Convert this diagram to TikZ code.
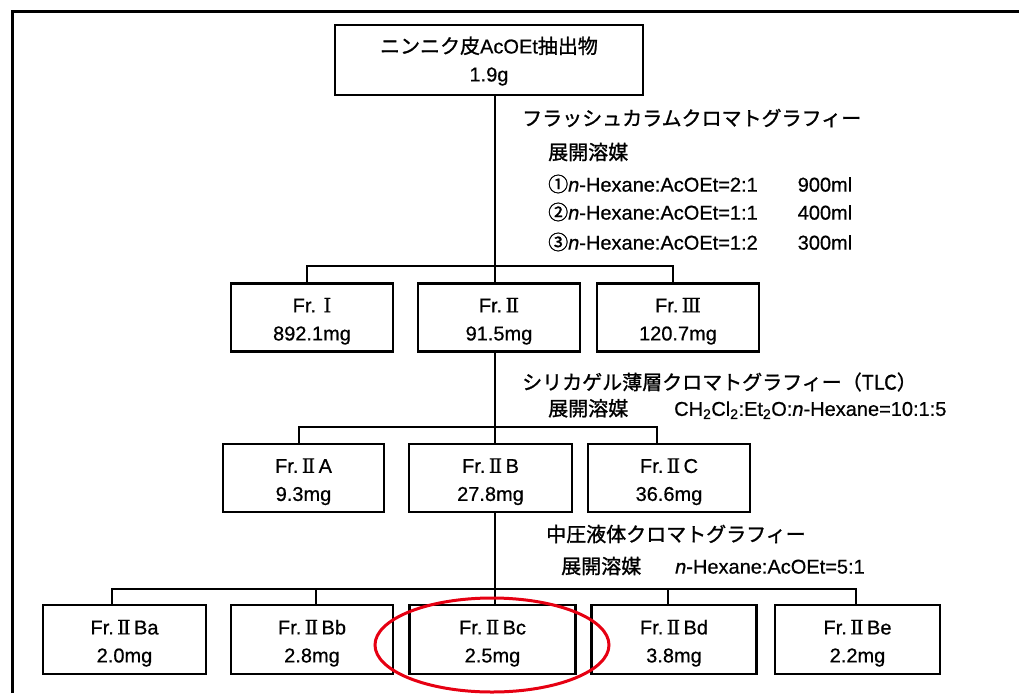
\documentclass[tikz,border=0pt]{standalone}
\usepackage{fontspec}
\setmainfont{Liberation Sans}[FakeBold=0.6]
\newfontfamily\jp{Noto Sans CJK JP}[FakeBold=1.2]
\newfontfamily\rn{DejaVu Serif}[FakeBold=0.6]
\newcommand{\tstrut}{\rule{0pt}{22pt}}
\usetikzlibrary{shapes.geometric}
\begin{document}
\begin{tikzpicture}[x=1pt,y=-1pt,
  fbox/.style={draw, line width=2.6pt, inner sep=0pt, align=center, minimum height=68pt,
     font=\fontsize{20}{28}\selectfont},
  conn/.style={line width=2.6pt},
  lab/.style={anchor=west, inner sep=0pt, font=\fontsize{20}{24}\selectfont}]
\useasboundingbox (0,0) rectangle (1019,693);
\draw[line width=3pt] (12,693) -- (12,12) -- (1019,12);

% boxes
\node[fbox, minimum width=308pt, minimum height=70pt] (top) at (489,60) {\rule{0pt}{19pt}{\jp ニンニク皮}AcOEt{\jp 抽出物}\\1.9g};
\node[fbox, minimum width=162pt] (f1) at (312,317.5) {\tstrut Fr. {\rn Ⅰ}\\892.1mg};
\node[fbox, minimum width=162pt] (f2) at (499,317.5) {\tstrut Fr.\,{\rn Ⅱ}\\91.5mg};
\node[fbox, minimum width=162pt] (f3) at (678,317.5) {\tstrut Fr.\,{\rn Ⅲ}\\120.7mg};
\node[fbox, minimum width=161pt] (fA) at (303.5,478) {\tstrut Fr.\,{\rn Ⅱ}\,A\\9.3mg};
\node[fbox, minimum width=163pt] (fB) at (490.5,478) {\tstrut Fr.\,{\rn Ⅱ}\,B\\27.8mg};
\node[fbox, minimum width=162pt] (fC) at (669,478) {\tstrut Fr.\,{\rn Ⅱ}\,C\\36.6mg};
\node[fbox, minimum width=163pt, minimum height=69pt] (fBa) at (124.5,639.5) {\tstrut Fr.\,{\rn Ⅱ}\,Ba\\2.0mg};
\node[fbox, minimum width=162pt, minimum height=69pt] (fBb) at (312,639.5) {\tstrut Fr.\,{\rn Ⅱ}\,Bb\\2.8mg};
\node[fbox, minimum width=166pt, minimum height=69pt] (fBc) at (492.5,639.5) {\tstrut Fr.\,{\rn Ⅱ}\,Bc\\2.5mg};
\node[fbox, minimum width=165pt, minimum height=69pt] (fBd) at (674,639.5) {\tstrut Fr.\,{\rn Ⅱ}\,Bd\\3.8mg};
\node[fbox, minimum width=165pt, minimum height=69pt] (fBe) at (857.5,639.5) {\tstrut Fr.\,{\rn Ⅱ}\,Be\\2.2mg};

% junctions
\coordinate (j1) at (495,266);
\coordinate (j1L) at (307,266);
\coordinate (j1R) at (673,266);
\coordinate (j2) at (495,427);
\coordinate (j2L) at (299,427);
\coordinate (j2R) at (657,427);
\coordinate (j3) at (495,589);
\coordinate (j3a) at (112,589);
\coordinate (j3b) at (316,589);
\coordinate (j3d) at (668,589);
\coordinate (j3e) at (856,589);

\draw[conn] (top.south -| j1) -- (j1);
\draw[conn] (j1L |- f1.north) -- (j1L) -- (j1R) -- (j1R |- f3.north);
\draw[conn] (j1) -- (j1 |- f2.north);

\draw[conn] (f2.south -| j2) -- (j2);
\draw[conn] (j2L |- fA.north) -- (j2L) -- (j2R) -- (j2R |- fC.north);
\draw[conn] (j2) -- (j2 |- fB.north);

\draw[conn] (fB.south -| j3) -- (j3);
\draw[conn] (j3a |- fBa.north) -- (j3a) -- (j3e) -- (j3e |- fBe.north);
\draw[conn] (j3) -- (j3 |- fBc.north);
\draw[conn] (j3b) -- (j3b |- fBb.north);
\draw[conn] (j3d) -- (j3d |- fBd.north);

% labels
\node[lab] (l1) at (522,118) {\jp フラッシュカラムクロマトグラフィー};
\node[lab] (l2) at (548,152) {\jp 展開溶媒};
\node[lab] (l3) at (548,184) {{\jp ①}\textit{n}-Hexane:AcOEt=2:1\hspace{40pt}900ml};
\node[lab] (l4) at (548,212) {{\jp ②}\textit{n}-Hexane:AcOEt=1:1\hspace{40pt}400ml};
\node[lab] (l5) at (548,242) {{\jp ③}\textit{n}-Hexane:AcOEt=1:2\hspace{40pt}300ml};
\node[lab] (l6) at (522,382) {\jp シリカゲル薄層クロマトグラフィー（TLC）};
\node[lab] (l7) at (548,409) {{\jp 展開溶媒}\hspace{46pt}CH\textsubscript{2}Cl\textsubscript{2}:Et\textsubscript{2}O:\textit{n}-Hexane=10:1:5};
\node[lab] (l8) at (546,534) {\jp 中圧液体クロマトグラフィー};
\node[lab] (l9) at (561,566) {{\jp 展開溶媒}\hspace{34pt}\textit{n}-Hexane:AcOEt=5:1};

% highlight
\node[draw={rgb,255:red,230;green,0;blue,18}, line width=3pt, ellipse, inner sep=0pt,
  minimum width=234pt, minimum height=94pt] (hl) at (492,645) {};
\end{tikzpicture}
\end{document}
